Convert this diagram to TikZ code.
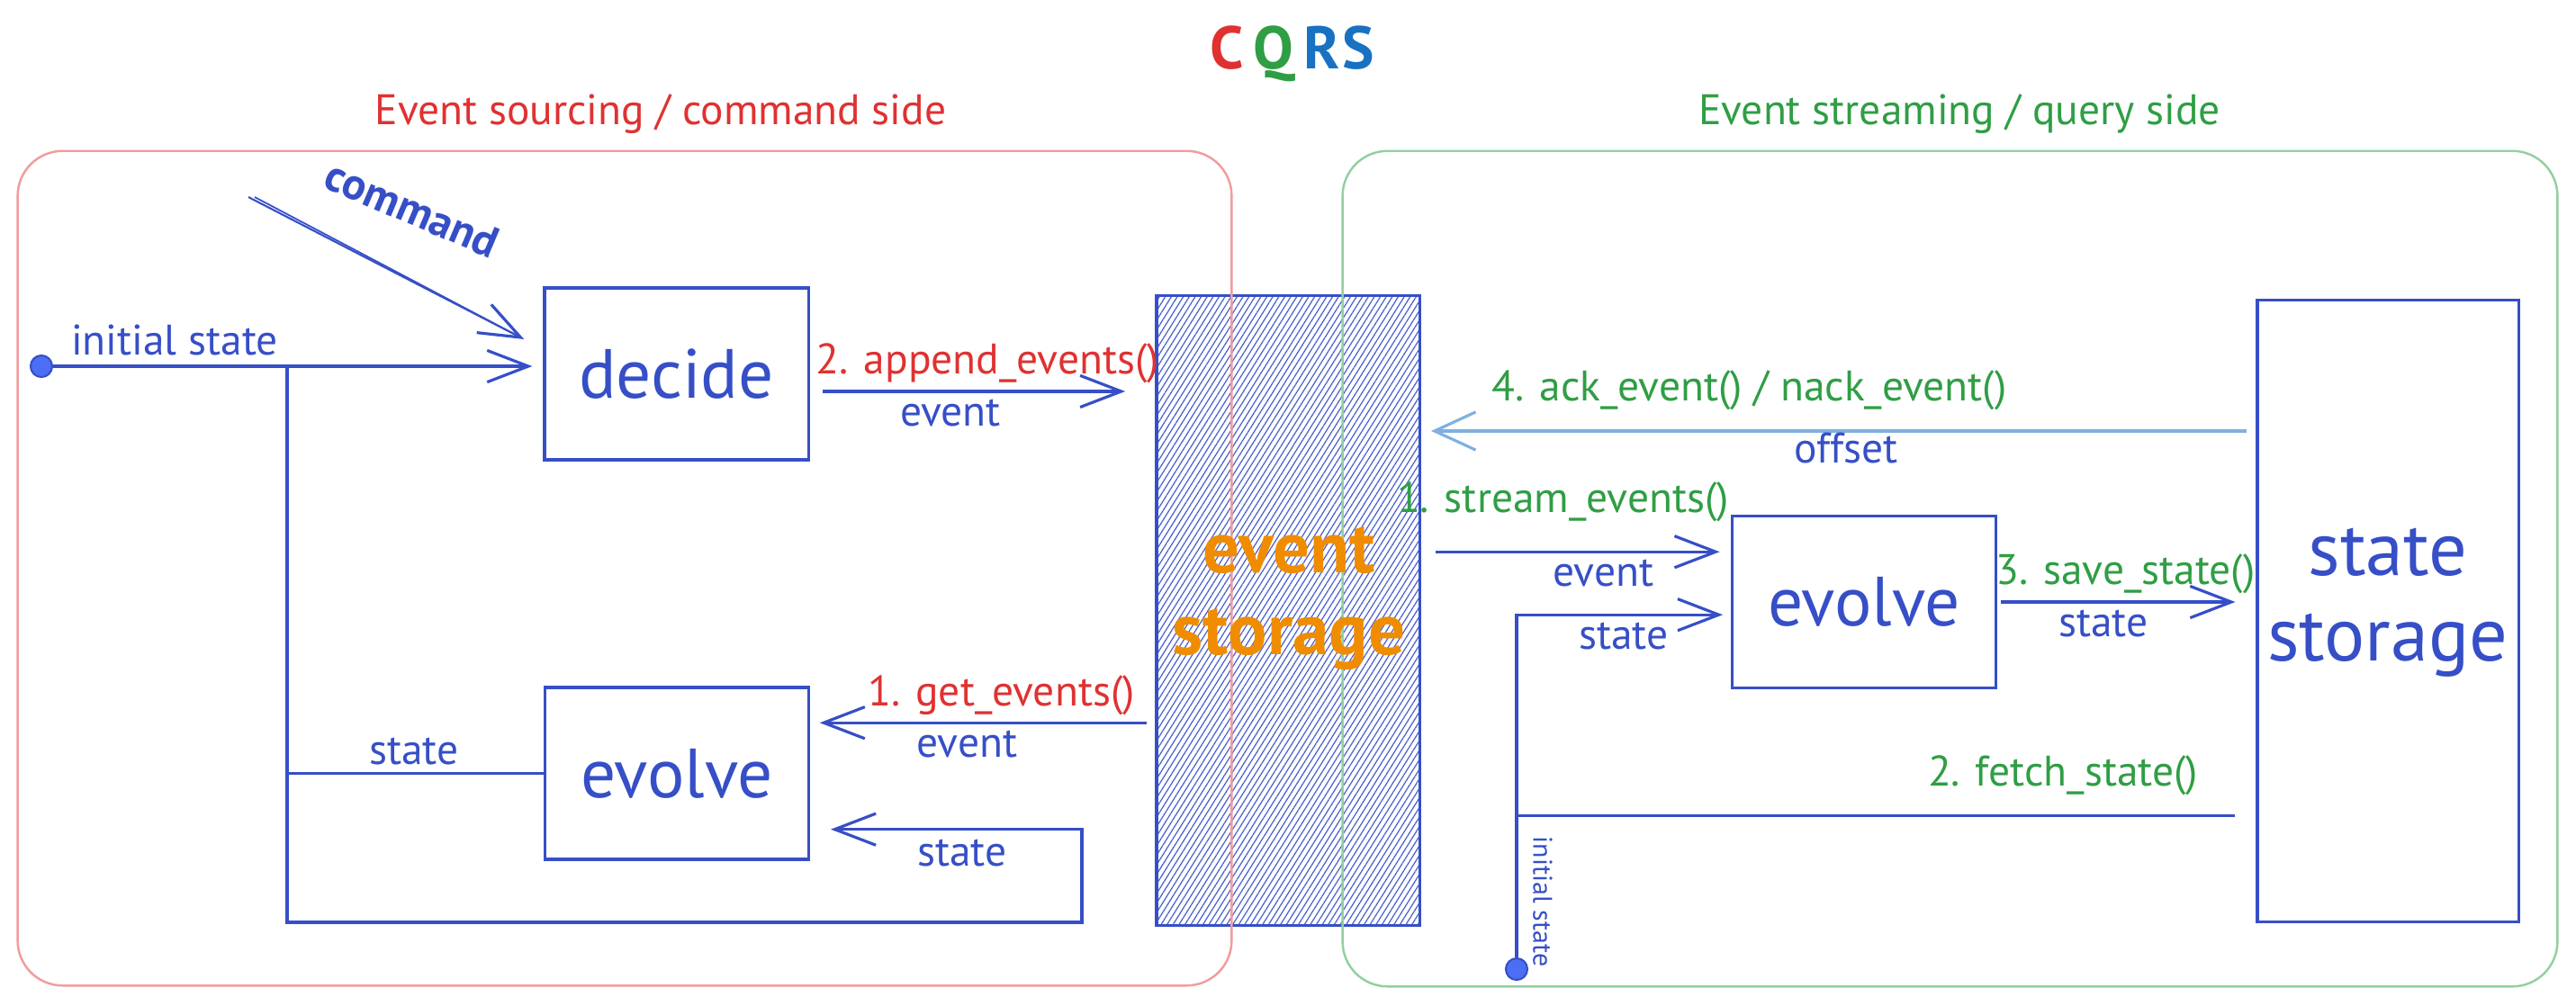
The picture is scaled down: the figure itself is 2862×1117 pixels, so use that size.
\documentclass[tikz,border=0pt]{standalone}
\usepackage{fontspec}
\setmainfont{PT Sans}
\usetikzlibrary{arrows.meta,calc,patterns.meta}

\definecolor{ink}{HTML}{364FC7}
\definecolor{dotfill}{HTML}{4C6EF5}
\definecolor{cmdred}{HTML}{E03131}
\definecolor{qrygreen}{HTML}{2F9E44}
\definecolor{cqblue}{HTML}{1971C2}
\definecolor{storeorange}{HTML}{F08C00}
\definecolor{framered}{HTML}{F19C9C}
\definecolor{framegreen}{HTML}{93CFA0}
\definecolor{acklight}{HTML}{7FB0E0}

\tikzset{
  box/.style={draw=ink, line width=0.9pt, minimum width=2.93cm, minimum height=1.91cm,
    font=\fontsize{22}{24}\selectfont, text=ink},
  arr/.style={draw=ink, line width=0.9pt, -{Straight Barb[length=13pt,width=10pt,line width=0.9pt]}},
  ackarr/.style={draw=acklight, line width=1.1pt, -{Straight Barb[length=13pt,width=12pt,line width=0.9pt]}},
  wire/.style={draw=ink, line width=0.9pt},
  lbl/.style={font=\fontsize{13.5}{15}\selectfont, text=ink, inner sep=2pt},
  bigtext/.style={font=\fontsize{24}{27}\selectfont, align=center, text=ink},
  initdot/.style={circle, fill=dotfill, draw=ink, line width=0.6pt, minimum size=0.24cm, inner sep=0pt},
  sideframe/.style={line width=0.7pt, rounded corners=0.5cm},
}

\begin{document}
\begin{tikzpicture}[x=0.01cm, y=-0.01cm]
\useasboundingbox (0,0) rectangle (2862,1117);

% event storage, hatched
\node [draw=ink, line width=0.9pt, minimum width=2.92cm, minimum height=6.99cm,
  pattern={Lines[angle=58, distance=1.6pt, line width=0.35pt]}, pattern color=ink!90] (eventstore) at (1431,678.5) {};

% the two sides
\node [sideframe, draw=framered, minimum width=13.48cm, minimum height=9.27cm] (cmdframe) at (694,631.5) {};
\node [sideframe, draw=framegreen, minimum width=13.49cm, minimum height=9.28cm] (qryframe) at (2166.5,632) {};

\node [font=\bfseries\fontsize{19}{22}\selectfont] (cqrs) at (1436,60)
  {\textcolor{cmdred}{C}\kern3pt\textcolor{qrygreen}{Q}\kern3pt\textcolor{cqblue}{R}\kern1pt\textcolor{cqblue}{S}};
\node [font=\fontsize{13.5}{16}\selectfont, text=cmdred] (cmdtitle) at (734,127) {Event sourcing / command side};
\node [font=\fontsize{13.5}{16}\selectfont, text=qrygreen] (qrytitle) at (2177,127) {Event streaming / query side};

\node [bigtext, font=\bfseries\fontsize{23}{26}\selectfont, text=storeorange] (eventtext) at (1432,665) {event\\storage};

% command side
\node [box] (decide) at (751.5,415.5) {decide};
\node [box] (evolveL) at (752,859.5) {evolve};
\node [initdot] (initL) at (46,407) {};
\node [lbl] (initLtext) at (194,378) {initial state};

\coordinate (cmdS) at (276,219);
\coordinate (cmdE) at ([xshift=-0.21cm, yshift=0.385cm]decide.west);
\draw [arr, line width=0.6pt] (cmdS) -- (cmdE);
\draw [wire, line width=0.5pt, shorten >=3pt] ([xshift=2pt]cmdS) -- (cmdE);
\node [lbl, font=\bfseries\fontsize{14}{16}\selectfont, rotate=-23] (cmdtext) at (458,232) {command};

\coordinate (splitL) at (319,407);
\coordinate (loopL) at (1202,1025);
\draw [arr, shorten >=3.4pt] (initL) -- (initL -| decide.west);
\draw [arr, shorten >=6.5pt] (splitL) |- (loopL) |- ($(evolveL.north east)!0.82!(evolveL.south east)$);
\node [lbl] (loopLtext) at (1069,948) {state};

\draw [wire] (evolveL.west) -- (evolveL.west -| splitL);
\node [lbl] (stateLtext) at (460,835) {state};

\coordinate (appendS) at ($(decide.north east)!0.6!(decide.south east)$);
\draw [arr, shorten <=4pt, shorten >=9.7pt] (appendS) -- (appendS -| eventstore.west)
  node [lbl, above, text=cmdred, pos=0.514] {2. append\_events()}
  node [lbl, below, pos=0.406] {event};

\coordinate (getS) at ($(eventstore.north west)!0.678!(eventstore.south west)$);
\draw [arr, shorten <=3pt, shorten >=3pt] (getS) -- (getS -| evolveL.east)
  node [lbl, above, text=cmdred, pos=0.447] {1. get\_events()}
  node [lbl, below, pos=0.546] {event};

% query side
\node [box] (evolveR) at (2071,669) {evolve};
\node [draw=ink, line width=0.9pt, minimum width=2.9cm, minimum height=6.9cm] (statestore) at (2653,679) {};
\node [bigtext] (statetext) at (2653,670) {state\\storage};
\node [initdot] (initR) at (1685,1077) {};
\node [lbl, font=\fontsize{8.5}{9}\selectfont, rotate=-90] (initRtext) at (1714,1002) {initial state};

\coordinate (ackS) at ($(statestore.north west)!0.2116!(statestore.south west)$);
\draw [ackarr, shorten <=3pt, shorten >=3.5pt] (ackS) -- (ackS -| eventstore.east)
  node [lbl, above=4pt, text=qrygreen, pos=0.606] {4. ack\_event() / nack\_event()}
  node [lbl, below, inner sep=0pt, pos=0.49] {offset};

\coordinate (streamE) at ($(evolveR.north west)!0.213!(evolveR.south west)$);
\draw [arr, shorten <=5pt, shorten >=3.5pt] (streamE -| eventstore.east) -- (streamE)
  node [lbl, above=7pt, text=qrygreen, pos=0.46] {1. stream\_events()}
  node [lbl, below, pos=0.59] {event};

\coordinate (stateR) at ($(evolveR.north west)!0.573!(evolveR.south west)$);
\draw [arr, shorten >=2.5pt] (initR) |- (stateR)
  node [lbl, below, pos=0.75] {state};

\coordinate (fetchS) at ($(statestore.north west)!0.8275!(statestore.south west)$);
\draw [wire, shorten <=6.5pt] (fetchS) -- (fetchS -| initR)
  node [lbl, above=4pt, text=qrygreen, pos=0.261] {2. fetch\_state()};

\draw [arr, shorten <=1pt, shorten >=6.5pt] (evolveR.east) -- (evolveR.east -| statestore.west)
  node [lbl, above, text=qrygreen, pos=0.495] {3. save\_state()}
  node [lbl, below, pos=0.41] {state};
\end{tikzpicture}
\end{document}
